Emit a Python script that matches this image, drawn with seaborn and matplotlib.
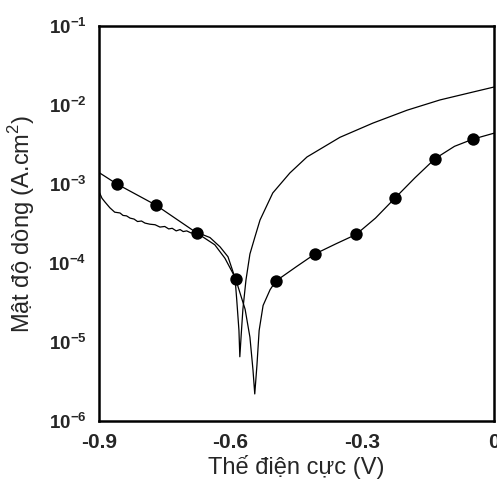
import numpy as np
import pandas as pd
import matplotlib
matplotlib.use("Agg")
import matplotlib.pyplot as plt
import seaborn as sns

# curve without markers (E, i)
e_plain = [-0.900, -0.893, -0.886, -0.875, -0.864, -0.852, -0.845, -0.837, -0.829, -0.820,
           -0.812, -0.803, -0.795, -0.784, -0.772, -0.761, -0.750, -0.741, -0.733, -0.724,
           -0.715, -0.708, -0.700, -0.690, -0.681, -0.665, -0.647, -0.624, -0.606, -0.590,
           -0.586, -0.581, -0.579, -0.576, -0.572, -0.565, -0.556, -0.545, -0.533, -0.504,
           -0.465, -0.426, -0.351, -0.276, -0.198, -0.123, -0.048, 0.000]
i_plain = [8.1e-4, 6.6e-4, 5.9e-4, 5.0e-4, 4.4e-4, 4.3e-4, 4.0e-4, 3.95e-4, 3.7e-4, 3.6e-4,
           3.35e-4, 3.4e-4, 3.2e-4, 3.1e-4, 3.05e-4, 2.85e-4, 2.9e-4, 2.7e-4, 2.75e-4, 2.55e-4,
           2.65e-4, 2.5e-4, 2.55e-4, 2.4e-4, 2.45e-4, 2.3e-4, 2.1e-4, 1.6e-4, 1.2e-4, 6.5e-5,
           3.4e-5, 1.4e-5, 6.5e-6, 1.2e-5, 2.6e-5, 6.1e-5, 1.3e-4, 2.1e-4, 3.5e-4, 7.7e-4,
           1.38e-3, 2.2e-3, 3.9e-3, 5.9e-3, 8.6e-3, 1.16e-2, 1.46e-2, 1.69e-2]

# curve with markers
e_mark_line = [-0.900, -0.859, -0.770, -0.677, -0.636, -0.613, -0.588, -0.583, -0.567, -0.556,
               -0.549, -0.545, -0.540, -0.535, -0.526, -0.510, -0.497, -0.450, -0.408, -0.360,
               -0.314, -0.270, -0.226, -0.180, -0.134, -0.090, -0.048, 0.000]
i_mark_line = [1.4e-3, 1.0e-3, 5.4e-4, 2.4e-4, 1.7e-4, 1.15e-4, 6.3e-5, 5.0e-5, 2.6e-5, 1.15e-5,
               4.4e-6, 2.2e-6, 5.1e-6, 1.4e-5, 2.9e-5, 4.6e-5, 5.9e-5, 9.0e-5, 1.3e-4, 1.75e-4,
               2.3e-4, 3.7e-4, 6.6e-4, 1.2e-3, 2.1e-3, 3.0e-3, 3.7e-3, 4.4e-3]
e_markers = [-0.859, -0.770, -0.677, -0.588, -0.497, -0.408, -0.314, -0.226, -0.134, -0.048]
i_markers = [1.0e-3, 5.4e-4, 2.4e-4, 6.3e-5, 5.9e-5, 1.3e-4, 2.3e-4, 6.6e-4, 2.1e-3, 3.7e-3]

yticks = [1e-6, 1e-5, 1e-4, 1e-3, 1e-2, 1e-1]
ytick_labels = [r"$\mathbf{10^{-6}}$", r"$\mathbf{10^{-5}}$", r"$\mathbf{10^{-4}}$",
                r"$\mathbf{10^{-3}}$", r"$\mathbf{10^{-2}}$", r"$\mathbf{10^{-1}}$"]
xticks = [-0.9, -0.6, -0.3, 0.0]
xtick_labels = ["-0.9", "-0.6", "-0.3", "0"]

sns.set_style("white")
plt.rcParams["font.family"] = ["Liberation Sans", "DejaVu Sans"]
plt.rcParams["mathtext.fontset"] = "custom"
plt.rcParams["mathtext.rm"] = "Liberation Sans"
plt.rcParams["mathtext.bf"] = "Liberation Sans:bold"

fig = plt.figure(figsize=(4.97, 4.82), dpi=100)
ax = fig.add_axes([0.199, 0.1266, 0.795, 0.8194])

df_plain = pd.DataFrame({"E": e_plain, "i": i_plain})
df_line = pd.DataFrame({"E": e_mark_line, "i": i_mark_line})
df_mk = pd.DataFrame({"E": e_markers, "i": i_markers})

sns.lineplot(data=df_plain, x="E", y="i", sort=False, color="black", lw=0.9, ax=ax)
sns.lineplot(data=df_line, x="E", y="i", sort=False, color="black", lw=0.9, ax=ax)
sns.scatterplot(data=df_mk, x="E", y="i", color="black", s=80, edgecolor="black", linewidth=0, ax=ax, zorder=3)

ax.set_yscale("log")
ax.set_xlim(-0.9, 0.0)
ax.set_ylim(1e-6, 1e-1)
ax.set_yticks(yticks)
ax.set_yticklabels(ytick_labels, fontsize=13.5)
ax.minorticks_off()
ax.set_xticks(xticks)
ax.set_xticklabels(xtick_labels, fontsize=15, fontweight="bold")
ax.tick_params(axis="both", direction="in", length=7.5, width=1, pad=9)
ax.tick_params(axis="x", pad=9)

for s in ax.spines.values():
    s.set_linewidth(1.8)
    s.set_color("black")

ax.set_xlabel("Thế điện cực (V)", fontsize=17, labelpad=2)
ax.set_ylabel(r"Mật độ dòng (A.cm$^{2}$)", fontsize=17, labelpad=8)

fig.savefig("out.png", dpi=100)
